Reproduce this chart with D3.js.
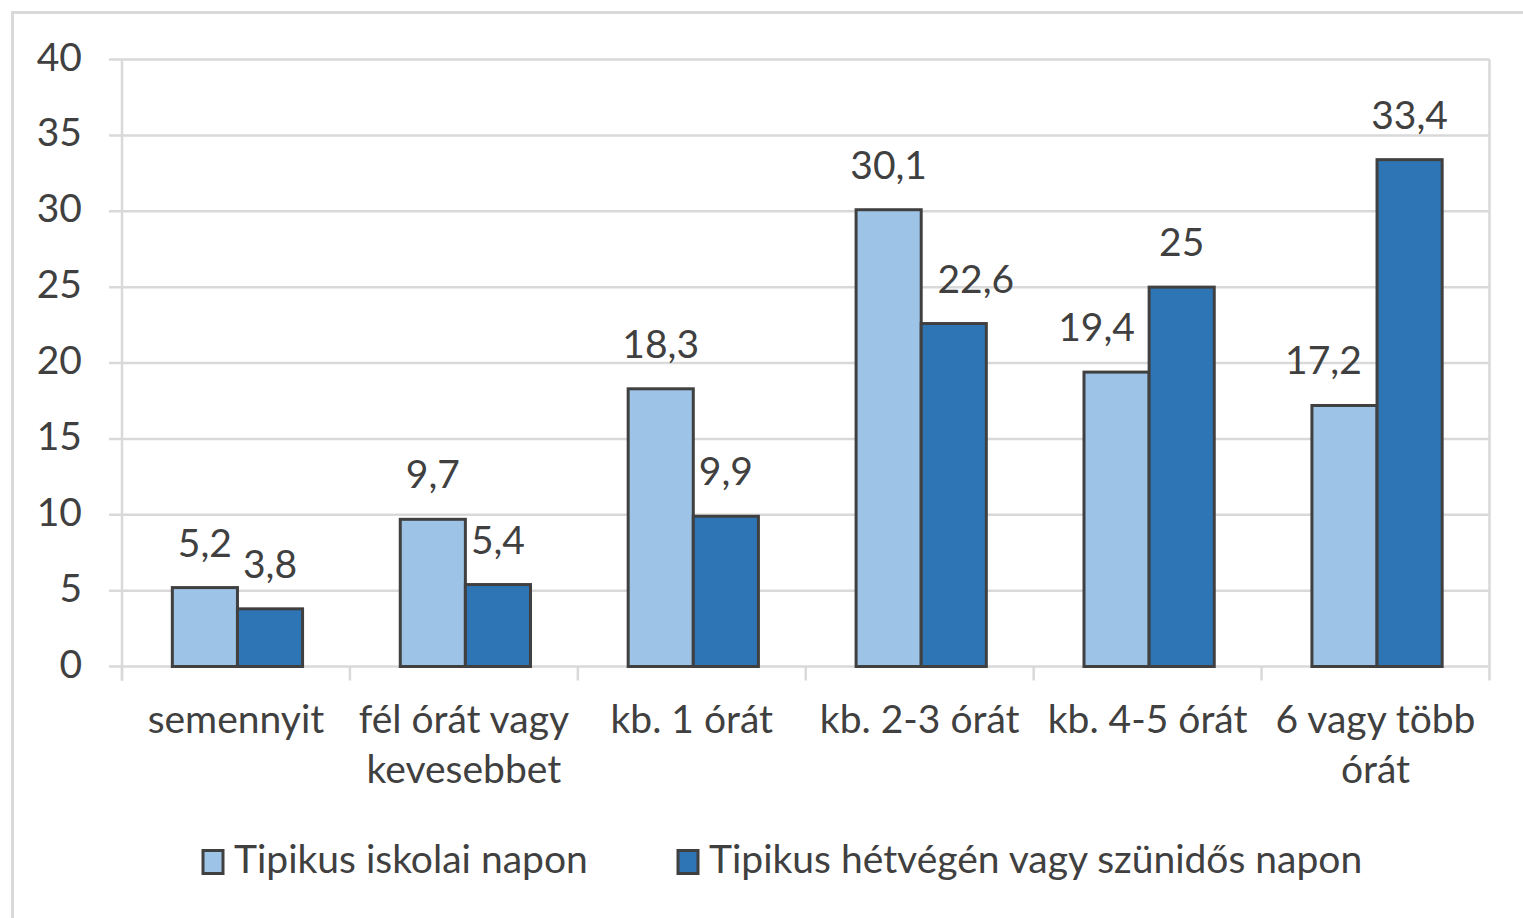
<!DOCTYPE html>
<html>
<head>
<meta charset="utf-8">
<script src="https://cdn.jsdelivr.net/npm/d3@7"></script>
<style>
  body { margin: 0; background: #fff; }
  text { font-family: Lato, "Open Sans", sans-serif; fill: #404040; }
</style>
</head>
<body>
<svg id="chart" width="1523" height="918"></svg>
<script>
// data
const categories = ["semennyit", "fél órát vagy kevesebbet", "kb. 1 órát", "kb. 2-3 órát", "kb. 4-5 órát", "6 vagy több órát"];
const categoryLines = [["semennyit"], ["fél órát vagy", "kevesebbet"], ["kb. 1 órát"], ["kb. 2-3 órát"], ["kb. 4-5 órát"], ["6 vagy több", "órát"]];
const seriesNames = ["Tipikus iskolai napon", "Tipikus hétvégén vagy szünidős napon"];
const schoolDay = [5.2, 9.7, 18.3, 30.1, 19.4, 17.2];
const weekendDay = [3.8, 5.4, 9.9, 22.6, 25, 33.4];
const yTicks = [0, 5, 10, 15, 20, 25, 30, 35, 40];

const colors = ["#9dc3e6", "#2e75b6"];
const gridColor = "#d9d9d9";
const barStroke = "#404040";
const fontSize = 39;

// labels that Excel pushed sideways to avoid overlapping
const labelNudge = { "0-4": -20, "0-5": -21, "1-3": 22 };

const svg = d3.select("#chart"),
  width = +svg.attr("width"),
  height = +svg.attr("height");

const plotLeft = 122, plotRight = 1489.5, plotTop = 59.5, plotBottom = 666.5;

// outer chart border
svg.append("rect")
  .attr("x", 12.5).attr("y", 12.5)
  .attr("width", 1600).attr("height", 1000)
  .attr("fill", "none")
  .attr("stroke", gridColor)
  .attr("stroke-width", 3);

const y = d3.scaleLinear().domain([0, 40]).range([plotBottom, plotTop]);
const x0 = d3.scaleBand().domain(categories).range([plotLeft, plotRight]).paddingInner(0).paddingOuter(0);
const x1 = d3.scaleBand().domain([0, 1]).range([1.5, x0.bandwidth() + 1.5]).paddingInner(0).paddingOuter(0.75);

// gridlines + y labels
const yAxis = svg.append("g");
yAxis.selectAll("line")
  .data(yTicks)
  .join("line")
  .attr("x1", plotLeft - 13).attr("x2", plotRight)
  .attr("y1", d => y(d)).attr("y2", d => y(d))
  .attr("stroke", gridColor)
  .attr("stroke-width", 2.5);
yAxis.selectAll("text")
  .data(yTicks)
  .join("text")
  .attr("x", 82)
  .attr("y", d => y(d) + 11)
  .attr("text-anchor", "end")
  .style("font-size", fontSize + "px")
  .text(d => d);

// left axis line and right border
svg.append("line")
  .attr("x1", plotLeft).attr("x2", plotLeft)
  .attr("y1", plotTop).attr("y2", plotBottom + 14)
  .attr("stroke", gridColor).attr("stroke-width", 2.5);
svg.append("line")
  .attr("x1", plotRight).attr("x2", plotRight)
  .attr("y1", plotTop).attr("y2", plotBottom)
  .attr("stroke", gridColor).attr("stroke-width", 2.5);

// category ticks
const bounds = categories.map(c => x0(c)).concat([plotRight]);
svg.append("g").selectAll("line")
  .data(bounds)
  .join("line")
  .attr("x1", d => d).attr("x2", d => d)
  .attr("y1", plotBottom).attr("y2", plotBottom + 14)
  .attr("stroke", gridColor).attr("stroke-width", 2.5);

// bars
const rows = [];
categories.forEach((c, i) => {
  [schoolDay[i], weekendDay[i]].forEach((v, s) => rows.push({ c, i, s, v }));
});

svg.append("g").selectAll("rect")
  .data(rows)
  .join("rect")
  .attr("x", d => x0(d.c) + x1(d.s))
  .attr("y", d => y(d.v))
  .attr("width", x1.bandwidth())
  .attr("height", d => y(0) - y(d.v))
  .attr("fill", d => colors[d.s])
  .attr("stroke", barStroke)
  .attr("stroke-width", 3);

// value labels
svg.append("g").selectAll("text")
  .data(rows)
  .join("text")
  .attr("x", d => x0(d.c) + x1(d.s) + x1.bandwidth() / 2 + (labelNudge[d.s + "-" + d.i] || 0))
  .attr("y", d => y(d.v) - 31)
  .attr("text-anchor", "middle")
  .style("font-size", fontSize + "px")
  .text(d => String(d.v).replace(".", ","));

// category labels
svg.append("g").selectAll("text")
  .data(categories)
  .join("text")
  .attr("text-anchor", "middle")
  .style("font-size", fontSize + "px")
  .each(function (c, i) {
    d3.select(this).selectAll("tspan")
      .data(categoryLines[i])
      .join("tspan")
      .attr("x", x0(c) + x0.bandwidth() / 2)
      .attr("y", (d, k) => 733 + k * 50)
      .text(d => d);
  });

// legend
const legendX = [203, 678];
const legend = svg.append("g").selectAll("g")
  .data(seriesNames)
  .join("g")
  .attr("transform", (d, i) => `translate(${legendX[i]},850.5)`);
legend.append("rect")
  .attr("width", 20).attr("height", 23)
  .attr("fill", (d, i) => colors[i])
  .attr("stroke", barStroke)
  .attr("stroke-width", 3);
legend.append("text")
  .attr("x", 31).attr("y", 22)
  .style("font-size", fontSize + "px")
  .text(d => d);
</script>
</body>
</html>
